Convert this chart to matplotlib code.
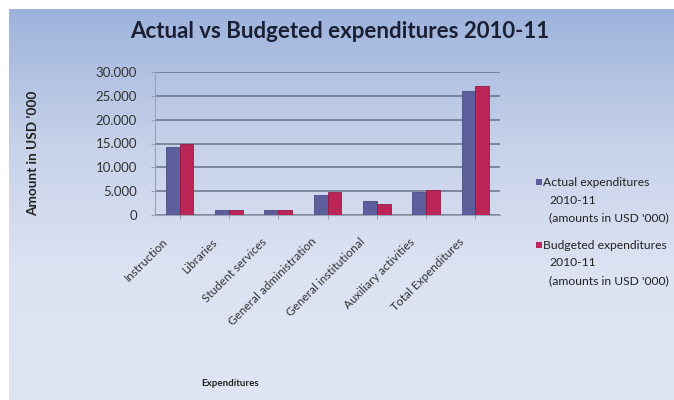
import matplotlib.pyplot as plt
import numpy as np
import matplotlib.transforms as mtransforms
from matplotlib.colors import LinearSegmentedColormap
from matplotlib.patches import Rectangle
from matplotlib.ticker import FuncFormatter

categories = ["Instruction", "Libraries", "Student services", "General administration",
              "General institutional", "Auxiliary activities", "Total Expenditures"]
actual = [14300, 1000, 1000, 4300, 3000, 4800, 26000]
budgeted = [15000, 1000, 1000, 4800, 2300, 5200, 27000]
series_names = [["Actual expenditures", "2010-11", "(amounts in USD '000)"],
                ["Budgeted expenditures", "2010-11", "(amounts in USD '000)"]]
colors = ["#5c5f9c", "#bb2558"]
edges = ["#4a4c82", "#951a44"]

plt.rcParams['font.family'] = ['Lato', 'DejaVu Sans']

fig = plt.figure(figsize=(6.74, 4.0), dpi=100)

# slide background: white margin, blue gradient
bg = fig.add_axes([0, 0, 1, 1])
bg.set_axis_off()
cmap = LinearSegmentedColormap.from_list("slide", ["#9db3dc", "#c6d1e9", "#dce2f2", "#e0e5f4"])
grad = np.linspace(0, 1, 256).reshape(-1, 1)
bg.imshow(grad, aspect="auto", cmap=cmap, extent=[9 / 674, 1, 0, 391 / 400])
bg.set_xlim(0, 1)
bg.set_ylim(0, 1)
bg.set_zorder(-5)

ax = fig.add_axes([155 / 674, (400 - 215) / 400, 345 / 674, 143 / 400])
ax.set_facecolor("none")

x = np.arange(len(categories))
w = 0.28
ax.bar(x - w / 2, actual, w, color=colors[0], edgecolor=edges[0], linewidth=0.6, zorder=3)
ax.bar(x + w / 2, budgeted, w, color=colors[1], edgecolor=edges[1], linewidth=0.6, zorder=3)

ax.set_xlim(-0.5, len(categories) - 0.5)
ax.set_ylim(0, 30000)
ax.set_yticks(np.arange(0, 30001, 5000))
ax.yaxis.set_major_formatter(FuncFormatter(lambda v, p: "0" if v == 0 else f"{int(v):,}".replace(",", ".")))
ax.grid(axis="y", color="#66728a", linewidth=1.1, zorder=0)
ax.set_axisbelow(True)

for s in ["top", "right"]:
    ax.spines[s].set_visible(False)
ax.spines["left"].set_color("#9aa3b3")
ax.spines["bottom"].set_color("#9aa3b3")

# category ticks, with the slanted labels placed a bit left of and below each tick
ax.set_xticks(x)
ax.set_xticklabels([])
ax.tick_params(axis="x", length=3, color="#9aa3b3")
ax.tick_params(axis="y", labelsize=9.5, length=3, color="#9aa3b3", labelcolor="#333333", pad=10)
base = mtransforms.blended_transform_factory(ax.transData, ax.transAxes)
offset = mtransforms.ScaledTranslation(-17 / 100, -21 / 100, fig.dpi_scale_trans)
for xi, name in zip(x, categories):
    ax.text(xi, 0, name, transform=base + offset, rotation=45, ha="right", va="top",
            rotation_mode="anchor", fontsize=8.5, color="#333333", clip_on=False)

fig.text(340 / 674, 1 - 31 / 400, "Actual vs Budgeted expenditures 2010-11", ha="center",
         va="center", fontsize=16, fontweight="bold", color="#1a1f33")
fig.text(33 / 674, 1 - 153 / 400, "Amount in USD '000", rotation=90, ha="center", va="center",
         fontsize=9.8, fontweight="bold", color="#222222")
fig.text(230 / 674, 1 - 384 / 400, "Expenditures", ha="center", va="center",
         fontsize=7, fontweight="bold", color="#222222")

# legend: square marker beside the first line, wrapped lines indented
for i, (lines, c) in enumerate(zip(series_names, colors)):
    y0 = 182 + i * 63
    fig.patches.append(Rectangle((536 / 674, 1 - (y0 + 3) / 400), 6 / 674, 6 / 400,
                                 transform=fig.transFigure, facecolor=c, edgecolor="none"))
    for j, line in enumerate(lines):
        xpos = 543 if j == 0 else 549
        fig.text(xpos / 674, 1 - (y0 + j * 18) / 400, line, ha="left", va="center",
                 fontsize=8.7, color="#222222")

fig.savefig("out.png", dpi=100)
